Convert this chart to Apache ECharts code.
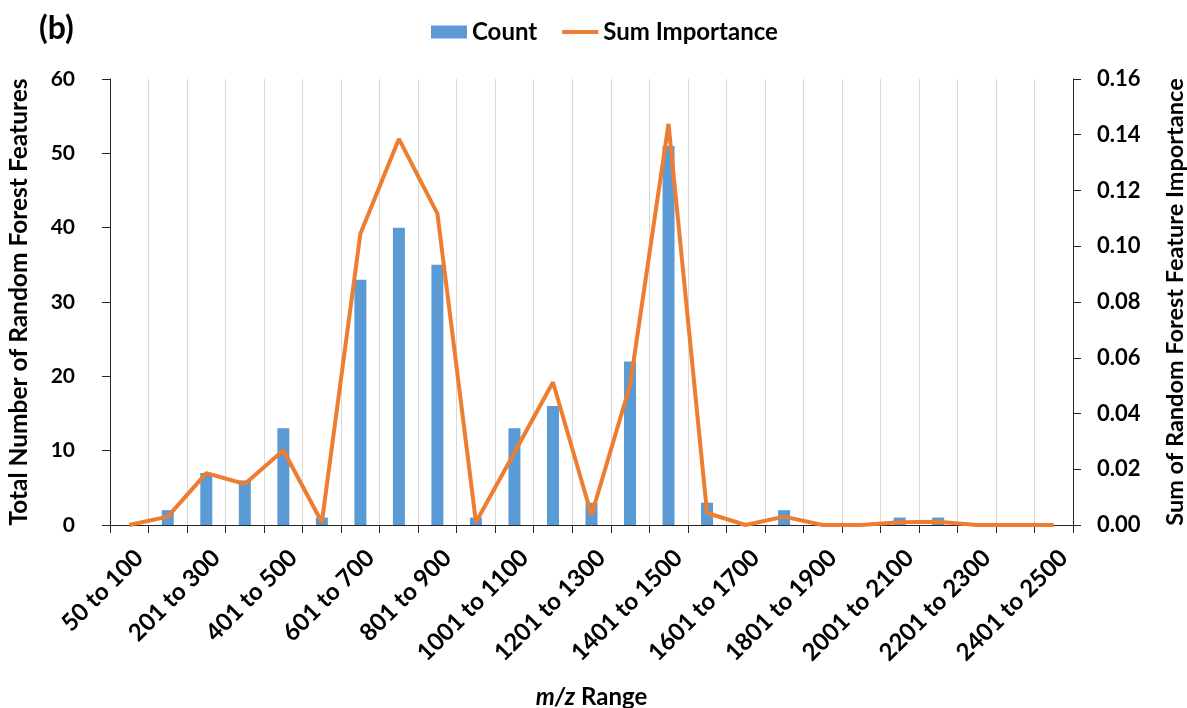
<!DOCTYPE html>
<html>
<head>
<meta charset="utf-8">
<script src="https://cdn.jsdelivr.net/npm/echarts@6/dist/echarts.min.js"></script>
<style>
html,body{margin:0;padding:0;background:#fff;}
#chart{width:1187px;height:708px;}
</style>
</head>
<body>
<div id="chart"></div>
<script>
var categories = ['50 to 100','101 to 200','201 to 300','301 to 400','401 to 500','501 to 600','601 to 700','701 to 800','801 to 900','901 to 1000','1001 to 1100','1101 to 1200','1201 to 1300','1301 to 1400','1401 to 1500','1501 to 1600','1601 to 1700','1701 to 1800','1801 to 1900','1901 to 2000','2001 to 2100','2101 to 2200','2201 to 2300','2301 to 2400','2401 to 2500'];
var counts = [0,2,7,6,13,1,33,40,35,1,13,16,3,22,51,3,0,2,0,0,1,1,0,0,0];
var importance = [0,0.003,0.0186,0.0147,0.0268,0.001,0.1045,0.1385,0.1117,0.001,0.026,0.0512,0.0036,0.0501,0.1439,0.0043,0,0.003,0,0,0.001,0.0012,0,0,0];
var leftTicks = {min:0, max:60, interval:10};
var rightTicks = {min:0, max:0.16, interval:0.02};

var FONT = 'Lato';
var chart = echarts.init(document.getElementById('chart'));
var axisColor = '#262626';
chart.setOption({
  animation:false,
  backgroundColor:'#fff',
  textStyle:{fontFamily:FONT, color:'#000'},
  graphic:[{type:'text', left:39, top:13, style:{text:'(b)', font:'bold 32px '+FONT, fill:'#000'}}],
  legend:{
    top:15, left:426, itemWidth:36, itemHeight:13, itemGap:25, symbolKeepAspect:true,
    textStyle:{fontFamily:FONT, fontWeight:'bold', fontSize:24, color:'#000'},
    data:[{name:'Count', icon:'rect'}, {name:'Sum Importance', icon:'path://M0,0 L36,0 L36,4 L0,4 Z'}]
  },
  grid:{left:110, right:114, top:79, bottom:183, containLabel:false, outerBoundsMode:'none'},
  xAxis:{
    type:'category', data:categories, boundaryGap:true,
    name:'{i|m/z} Range', nameLocation:'middle', nameGap:160, nameMoveOverlap:false,
    nameTextStyle:{fontFamily:FONT, fontWeight:'bold', fontSize:24, color:'#000',
      rich:{i:{fontStyle:'italic', fontWeight:'bold', fontSize:24, fontFamily:FONT, color:'#000'}}},
    axisLine:{show:true, lineStyle:{color:axisColor, width:1}},
    axisTick:{show:true, inside:false, length:8, alignWithLabel:false, interval:0, lineStyle:{color:axisColor}},
    splitLine:{show:true, interval:0, lineStyle:{color:'#d9d9d9', width:1}},
    axisLabel:{interval:1, rotate:45, margin:19, padding:[2,0,0,0], verticalAlign:'top', fontFamily:FONT, fontWeight:'bold', fontSize:24, color:'#000'}
  },
  yAxis:[{
    type:'value', position:'left', min:leftTicks.min, max:leftTicks.max, interval:leftTicks.interval,
    name:'Total Number of Random Forest Features', nameLocation:'middle', nameGap:78, nameRotate:90,
    nameTextStyle:{fontFamily:FONT, fontWeight:'bold', fontSize:24.5, color:'#000'},
    axisLine:{show:true, lineStyle:{color:axisColor, width:1}},
    axisTick:{show:true, length:8, lineStyle:{color:axisColor}},
    splitLine:{show:false},
    axisLabel:{margin:35, fontFamily:FONT, fontWeight:'bold', fontSize:21, color:'#000'}
  },{
    type:'value', position:'right', min:rightTicks.min, max:rightTicks.max, interval:rightTicks.interval,
    name:'Sum of Random Forest Feature Importance', nameLocation:'middle', nameGap:90, nameRotate:90,
    nameTextStyle:{fontFamily:FONT, fontWeight:'bold', fontSize:23.5, color:'#000'},
    axisLine:{show:true, lineStyle:{color:axisColor, width:1}},
    axisTick:{show:true, length:8, lineStyle:{color:axisColor}},
    splitLine:{show:false},
    axisLabel:{margin:24, fontFamily:FONT, fontWeight:'bold', fontSize:22, color:'#000',
      formatter:function(v){return v.toFixed(2);}}
  }],
  series:[{
    name:'Count', type:'bar', data:counts, barWidth:12, yAxisIndex:0,
    itemStyle:{color:'#5B9BD5'}
  },{
    name:'Sum Importance', type:'line', data:importance, yAxisIndex:1,
    symbol:'none', lineStyle:{color:'#ED7D31', width:4}, itemStyle:{color:'#ED7D31'}
  }]
});
</script>
</body>
</html>
